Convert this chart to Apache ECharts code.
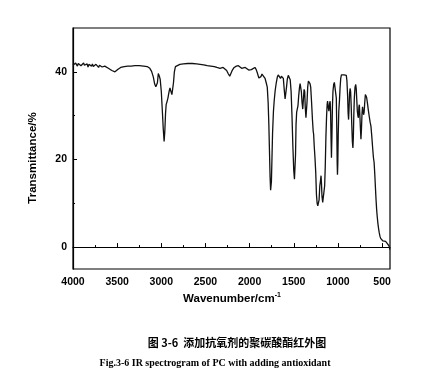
<!DOCTYPE html>
<html><head><meta charset="utf-8">
<script src="https://cdn.jsdelivr.net/npm/echarts@6/dist/echarts.min.js"></script>
<style>html,body{margin:0;padding:0;background:#fff}#c{width:430px;height:385px}</style>
</head><body><div id="c"></div>
<script>
const wavenumber = [4000,3990,3980,3970,3960,3950,3940,3930,3920,3910,3900,3890,3880,3870,3860,3850,3840,3830,3820,3810,3800,3790,3780,3770,3760,3750,3740,3730,3720,3710,3700,3690,3680,3670,3660,3650,3640,3620,3600,3580,3560,3540,3525,3510,3490,3460,3420,3380,3340,3300,3250,3200,3160,3130,3110,3090,3075,3062,3052,3044,3034,3022,3012,3000,2988,2978,2968,2960,2952,2945,2935,2925,2912,2902,2892,2880,2872,2862,2852,2840,2820,2790,2750,2700,2650,2600,2560,2520,2480,2440,2400,2370,2350,2335,2320,2300,2280,2260,2240,2225,2212,2195,2175,2150,2127,2110,2090,2070,2050,2030,2010,1995,1980,1960,1940,1925,1910,1895,1885,1872,1860,1848,1838,1825,1812,1800,1790,1782,1775,1768,1762,1758,1753,1747,1740,1730,1721,1710,1698,1686,1676,1664,1650,1640,1628,1618,1608,1598,1590,1582,1573,1562,1551,1540,1530,1520,1510,1500,1492,1486,1480,1474,1467,1460,1452,1444,1436,1428,1421,1414,1406,1398,1390,1383,1376,1370,1362,1357,1350,1342,1334,1326,1316,1308,1298,1288,1280,1275,1268,1260,1251,1243,1235,1228,1220,1213,1205,1198,1191,1186,1180,1172,1164,1157,1150,1143,1136,1128,1122,1117,1110,1102,1094,1088,1083,1078,1073,1068,1062,1056,1048,1040,1032,1024,1018,1012,1008,1005,1001,996,990,982,975,968,960,950,940,930,920,912,905,898,890,884,879,874,868,862,856,850,843,836,830,825,820,814,806,798,792,786,780,774,768,762,757,752,746,739,733,727,721,715,709,703,696,689,682,675,665,655,645,635,626,617,608,598,590,582,575,568,561,554,547,540,532,524,516,508,500,490,480,470,460,450,440,430,420,412];
const transmittance = [41.5,41.9,41.4,42.0,41.6,41.3,41.9,41.5,42.1,41.4,41.8,41.2,42.0,41.5,41.9,41.3,41.8,41.1,41.7,41.4,42.0,41.3,41.8,41.2,41.6,41.0,41.7,41.3,41.6,41.0,41.5,41.2,41.6,41.1,41.4,40.9,41.3,41.0,40.8,40.6,40.3,40.1,40.0,40.2,40.6,41.0,41.2,41.3,41.3,41.4,41.4,41.3,41.2,40.8,40.1,38.8,37.2,36.6,36.4,37.5,39.6,39.0,38.2,35.5,31,27,24.1,26.5,30.5,32.5,33.2,34.0,35.5,36.3,35.6,34.8,35.0,37.5,40.0,41.2,41.6,41.7,41.8,41.9,41.9,41.8,41.7,41.6,41.4,41.3,41.2,41.0,41.3,40.8,41.1,41.0,40.8,40.3,39.5,39.0,39.4,40.4,41.0,41.3,41.4,41.1,40.8,40.6,41.0,40.8,40.4,40.1,40.5,40.8,41.0,40.5,39.6,38.6,38.3,38.9,39.5,39.8,39.4,38.5,37.5,36.5,33,28,22,16,13,12.6,15,20,26,31,33.5,35.8,37.5,38.8,39.3,39.0,38.5,39.0,39.3,38.5,36,33.8,34,36.5,38.3,39.2,39.5,38.2,35.5,30,23,17.5,15.5,15.8,21,28,30.8,30.5,32.3,34.5,36.2,37.3,37.2,35.5,33,31.5,34,36,35.5,32,29.5,29.1,33,36.5,37.9,37.8,37.3,36.5,33,29,26.5,25.8,23,20.5,17,12,10,9.4,9.2,10.8,14,15,16.3,14.5,11.5,10.2,9.8,10.5,14,18.5,25,30,32.5,33.3,32,31,32.8,33.3,31,25,20.4,25,32,35.5,37.1,37.6,37.9,37.6,34,26,19,16.5,19,26,31,33.6,36.5,38.5,39.3,39.4,39.6,39.3,39.5,39.6,39.2,38,34.5,30.5,29.1,31.5,35,36.2,35.5,32.5,28,24,22.6,25,30,34,36.5,37.1,36,33.5,31,30,29.5,32,32.5,30.5,27.5,24.6,27,30.5,32,31,30.2,30.8,33,34.8,35,34.2,32.8,31.2,29.8,28.5,27.6,25.5,23,20.5,19.3,16.5,13.6,10.8,8.5,6.8,5.4,4.3,3.3,2.5,2.0,1.7,1.6,1.4,1.3,1.4,1.3,1.0,0.8,0.6,0.2,-0.6];
const xMajorTicks = [4000,3500,3000,2500,2000,1500,1000,500];
const xMinorTicks = [3750,3250,2750,2250,1750,1250,750];
const yMajorTicks = [0,20,40];
const yMinorTicks = [10,30];
const yTitle = 'Transmittance/%';
const xTitle = 'Wavenumber/cm';
const captionCN = '图 3-6  添加抗氧剂的聚碳酸酯红外图';
const captionEN = 'Fig.3-6 IR spectrogram of PC with adding antioxidant';

const data = wavenumber.map((w, i) => [w, transmittance[i]]);
const chart = echarts.init(document.getElementById('c'), null, {renderer: 'canvas'});
const lab = {color: '#000', fontFamily: 'Liberation Sans, Arial, sans-serif', fontWeight: 'bold', fontSize: 10.5, formatter: v => String(v)};
const axLine = {show: true, lineStyle: {color: '#000', width: 1.2}};
chart.setOption({
  animation: false,
  backgroundColor: '#fff',
  grid: {left: 73, top: 28, right: 40, bottom: 116, show: true, borderColor: '#000', borderWidth: 1.2, backgroundColor: 'transparent'},
  xAxis: [
    {type: 'value', inverse: true, min: 410, max: 4000, position: 'bottom',
     axisLine: axLine, splitLine: {show: false},
     axisTick: {show: true, inside: true, length: 4, customValues: xMajorTicks, lineStyle: {color: '#000', width: 1}},
     axisLabel: Object.assign({customValues: xMajorTicks, margin: 8}, lab)},
    {type: 'value', inverse: true, min: 410, max: 4000, position: 'bottom', offset: 0,
     axisLine: {show: false}, splitLine: {show: false},
     axisTick: {show: true, inside: true, length: 2, customValues: xMinorTicks, lineStyle: {color: '#000', width: 1}},
     axisLabel: {show: false}}
  ],
  yAxis: [
    {type: 'value', min: -5, max: 50, position: 'left',
     axisLine: axLine, splitLine: {show: false},
     axisTick: {show: true, inside: true, length: 4, customValues: yMajorTicks, lineStyle: {color: '#000', width: 1}},
     axisLabel: Object.assign({customValues: yMajorTicks, margin: 6}, lab)},
    {type: 'value', min: -5, max: 50, position: 'left', offset: 0,
     axisLine: {show: false}, splitLine: {show: false},
     axisTick: {show: true, inside: true, length: 2, customValues: yMinorTicks, lineStyle: {color: '#000', width: 1}},
     axisLabel: {show: false}}
  ],
  series: [{
    type: 'line', data: data, xAxisIndex: 0, yAxisIndex: 0,
    showSymbol: false, symbol: 'none', smooth: false,
    lineStyle: {color: '#111', width: 1.3}
  }],
  graphic: [
    {type: 'text', x: 33, y: 158, rotation: Math.PI / 2,
     style: {text: yTitle, fill: '#000', font: 'bold 11.5px "Liberation Sans", Arial, sans-serif', textAlign: 'center', textVerticalAlign: 'middle'}},
    {type: 'text', x: 232, y: 299,
     style: {text: '{a|' + xTitle + '}{s|-1}', textAlign: 'center', textVerticalAlign: 'middle',
       rich: {a: {fill: '#000', fontFamily: 'Liberation Sans, Arial, sans-serif', fontWeight: 'bold', fontSize: 11.5},
              s: {fill: '#000', fontFamily: 'Liberation Sans, Arial, sans-serif', fontWeight: 'bold', fontSize: 7, verticalAlign: 'top', padding: [0, 0, 7, 0]}}}},
    {type: 'text', x: 237, y: 343,
     style: {text: captionCN, fill: '#000', font: 'bold 11px "Noto Sans CJK SC", sans-serif', textAlign: 'center', textVerticalAlign: 'middle'}},
    {type: 'text', x: 215, y: 363,
     style: {text: captionEN, fill: '#000', font: 'bold 10px "Liberation Serif", "Times New Roman", serif', textAlign: 'center', textVerticalAlign: 'middle'}}
  ]
});
</script></body></html>
